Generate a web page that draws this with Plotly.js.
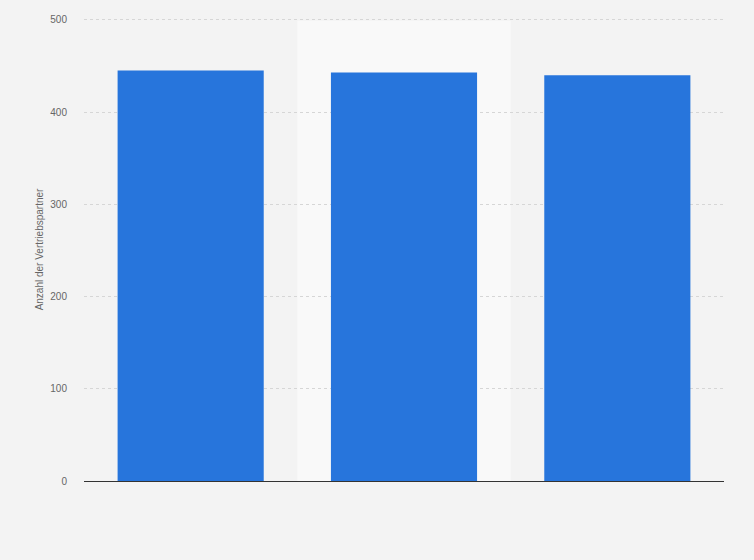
<!DOCTYPE html>
<html>
<head>
<meta charset="utf-8">
<script src="https://cdn.plot.ly/plotly-3.0.1.min.js"></script>
<style>
  html, body { margin: 0; padding: 0; background: #f3f3f3; }
  #myDiv { width: 754px; height: 560px; }
</style>
</head>
<body>
<div id="myDiv"></div>
<script>
// categories are not labelled on the chart
var categories = ['A', 'B', 'C'];
var partners = [445, 443, 440];
var yTicks = [0, 100, 200, 300, 400, 500];

var trace_bars = {
  x: categories,
  y: partners,
  type: 'bar',
  hoverinfo: 'none',
  marker: {
    color: '#2775dc',
    line: { width: 0 }
  }
};

var layout = {
  width: 754,
  height: 560,
  margin: { l: 84, r: 30, t: 18, b: 79, pad: 0 },
  paper_bgcolor: '#f3f3f3',
  plot_bgcolor: '#f3f3f3',
  bargap: 0.315,
  showlegend: false,
  font: { family: 'Liberation Sans, Arial, sans-serif', color: '#666666', size: 10 },
  xaxis: {
    type: 'category',
    showticklabels: false,
    showgrid: false,
    zeroline: false,
    showline: true,
    linecolor: '#333333',
    linewidth: 1,
    ticks: ''
  },
  yaxis: {
    range: [0, 502],
    tickvals: yTicks,
    showgrid: true,
    gridcolor: '#d6d6d6',
    griddash: 'dot',
    gridwidth: 1,
    zeroline: false,
    ticks: '',
    ticklabelstandoff: 16,
    tickfont: { size: 10, color: '#666666' },
    title: {
      text: 'Anzahl der Vertriebspartner',
      standoff: 4,
      font: { size: 10, color: '#666666' }
    }
  },
  // lighter band behind the middle category
  shapes: [{
    type: 'rect',
    xref: 'x',
    yref: 'y',
    x0: 0.5,
    x1: 1.5,
    y0: 0,
    y1: 499,
    fillcolor: '#f9f9f9',
    line: { width: 0 },
    layer: 'below'
  }]
};

var config = { displayModeBar: false, staticPlot: true };

Plotly.newPlot('myDiv', [trace_bars], layout, config);
</script>
</body>
</html>
